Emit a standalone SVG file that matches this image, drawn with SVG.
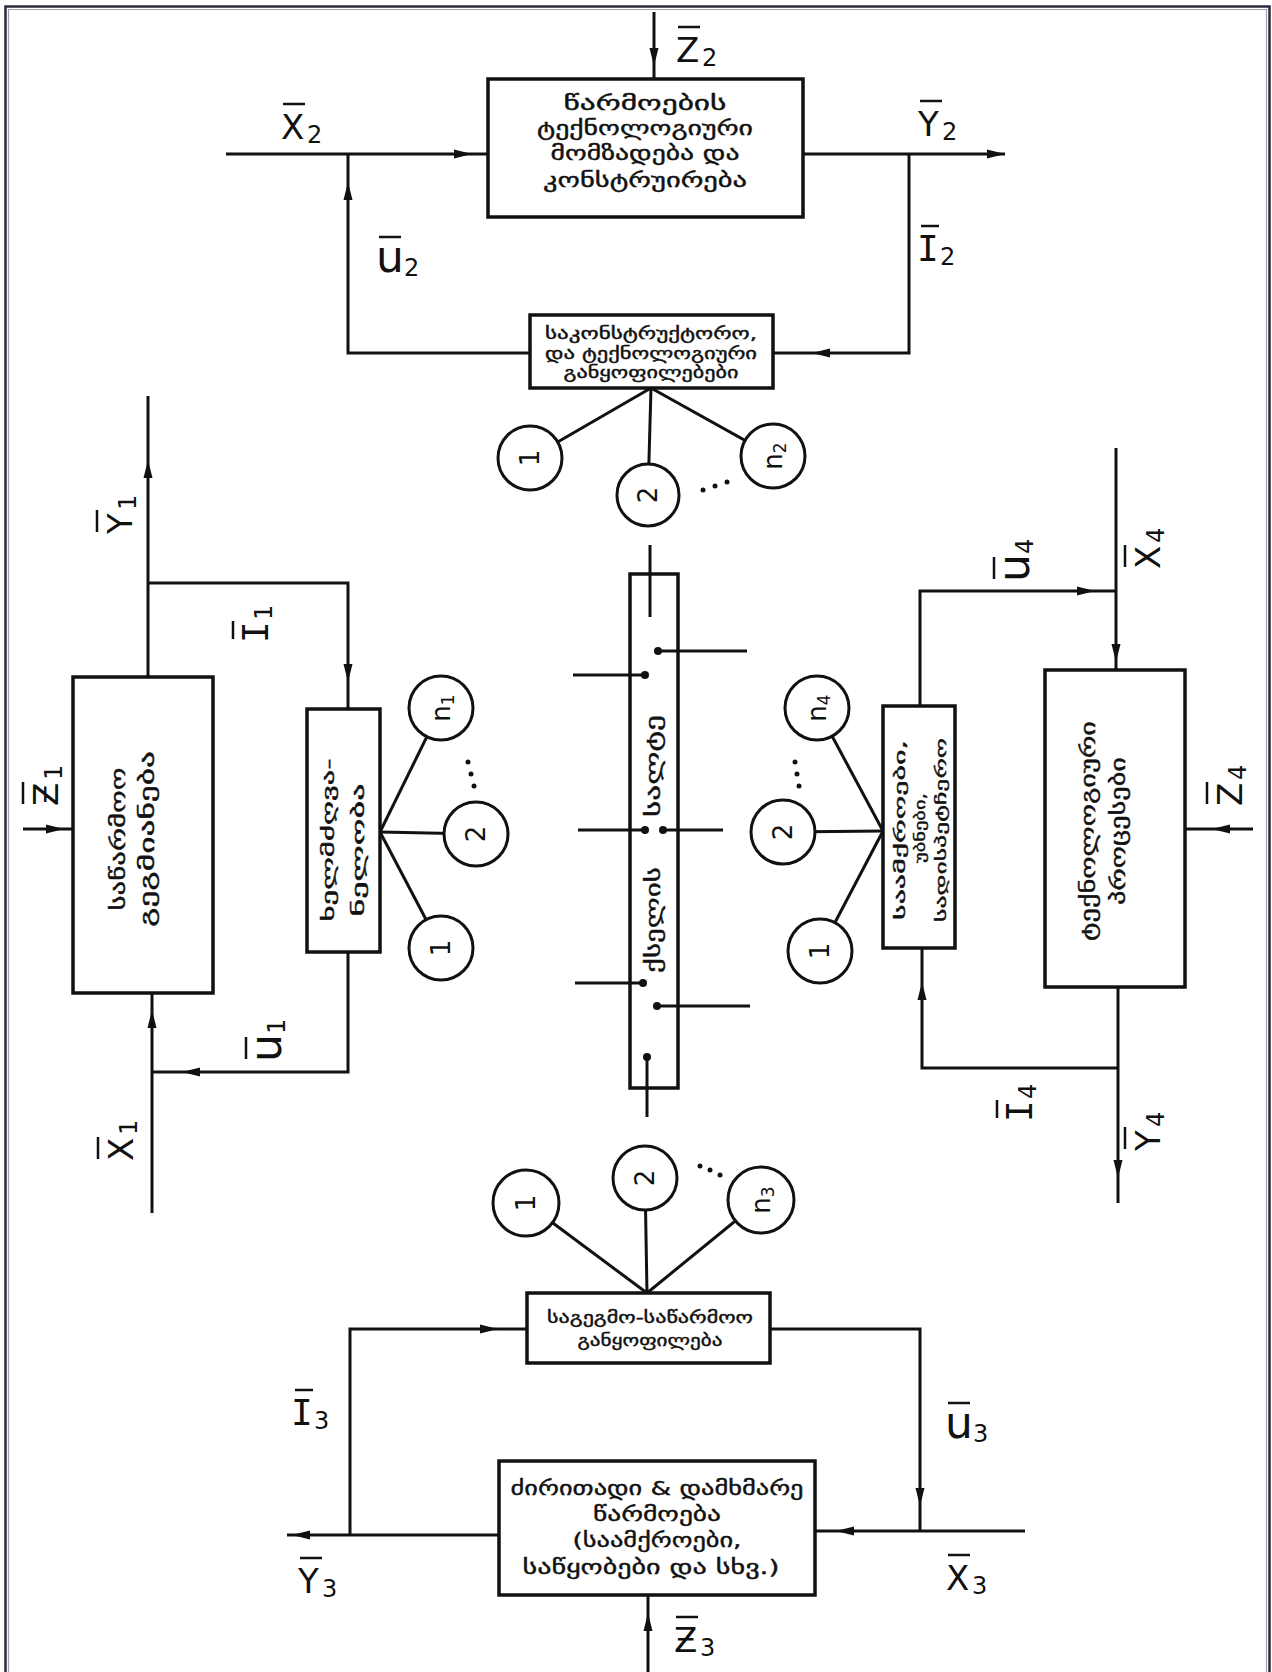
<svg xmlns="http://www.w3.org/2000/svg" xmlns:xlink="http://www.w3.org/1999/xlink" width="1272" height="1672" viewBox="0 0 1272 1672">
<style>
.ln{stroke:#111;stroke-width:3;fill:none}
.bx{fill:#fff;stroke:#111;stroke-width:3.5}
.cr{fill:#fff;stroke:#111;stroke-width:3}
.t{font-family:"DejaVu Sans",sans-serif;fill:#111;text-anchor:middle;dominant-baseline:central;stroke:#111;stroke-width:0.4}
.t20{font-size:20px}
.t16{font-size:16px}
.t15{font-size:15px}
.cl{font-family:"DejaVu Sans",sans-serif;font-size:26px;fill:#111;text-anchor:middle;dominant-baseline:central}
.lb{font-family:"DejaVu Sans",sans-serif;font-size:34px;fill:#111}
.lm{font-family:"DejaVu Sans Mono",monospace;font-size:36px;fill:#111}
.lu{font-family:"DejaVu Sans",sans-serif;font-size:44px;fill:#111}
.sb{font-family:"DejaVu Sans",sans-serif;font-size:24px;fill:#111}
.bar{stroke:#111;stroke-width:2.5}
.dot{fill:#111}
</style>
<defs>
<path id="ah" d="M0,0 L-18,-4.5 L-18,4.5 Z" fill="#111"/>
</defs>
<rect width="1272" height="1672" fill="#fff"/>
<g id="frame">
<path d="M5.5,1672 V6.5 H1269.5 V1672" fill="none" stroke="#2a2a3e" stroke-width="2.5"/>
<path d="M8.5,1672 V9.5 H1266.5 V1672" fill="none" stroke="#a0a0ac" stroke-width="1.2"/>
</g>

<g id="connectors">
<line class="ln" x1="654" y1="12" x2="654" y2="79"/>
<use xlink:href="#ah" transform="translate(654,66) rotate(90)"/>
<line class="ln" x1="226" y1="154" x2="488" y2="154"/>
<use xlink:href="#ah" transform="translate(472,154)"/>
<line class="ln" x1="803" y1="154" x2="1005" y2="154"/>
<use xlink:href="#ah" transform="translate(1005,154)"/>
<polyline class="ln" points="348,154 348,353 530,353"/>
<use xlink:href="#ah" transform="translate(348,182) rotate(-90)"/>
<polyline class="ln" points="909,154 909,353 773,353"/>
<use xlink:href="#ah" transform="translate(812,353) rotate(180)"/>
<line class="ln" x1="651" y1="388" x2="530" y2="458"/>
<line class="ln" x1="651" y1="388" x2="648" y2="495"/>
<line class="ln" x1="651" y1="388" x2="773" y2="456"/>
<line class="ln" x1="148" y1="396" x2="148" y2="677"/>
<use xlink:href="#ah" transform="translate(148,460) rotate(-90)"/>
<polyline class="ln" points="148,583 348,583 348,709"/>
<use xlink:href="#ah" transform="translate(348,682) rotate(90)"/>
<line class="ln" x1="23" y1="829" x2="73" y2="829"/>
<use xlink:href="#ah" transform="translate(64,829)"/>
<polyline class="ln" points="348,952 348,1072 152,1072"/>
<use xlink:href="#ah" transform="translate(182,1072) rotate(180)"/>
<line class="ln" x1="152" y1="1213" x2="152" y2="993"/>
<use xlink:href="#ah" transform="translate(152,1010) rotate(-90)"/>
<line class="ln" x1="380" y1="832" x2="441" y2="708"/>
<line class="ln" x1="380" y1="832" x2="476" y2="834"/>
<line class="ln" x1="380" y1="832" x2="441" y2="948"/>
<line class="ln" x1="1116" y1="448" x2="1116" y2="670"/>
<use xlink:href="#ah" transform="translate(1116,662) rotate(90)"/>
<polyline class="ln" points="920,706 920,591 1116,591"/>
<use xlink:href="#ah" transform="translate(1095,591)"/>
<line class="ln" x1="1253" y1="829" x2="1185" y2="829"/>
<use xlink:href="#ah" transform="translate(1212,829) rotate(180)"/>
<line class="ln" x1="1118" y1="987" x2="1118" y2="1203"/>
<use xlink:href="#ah" transform="translate(1118,1178) rotate(90)"/>
<polyline class="ln" points="1118,1068 922,1068 922,948"/>
<use xlink:href="#ah" transform="translate(922,982) rotate(-90)"/>
<line class="ln" x1="883" y1="831" x2="817" y2="708"/>
<line class="ln" x1="883" y1="831" x2="783" y2="832"/>
<line class="ln" x1="883" y1="831" x2="820" y2="951"/>
<line class="ln" x1="647" y1="1293" x2="526" y2="1203"/>
<line class="ln" x1="647" y1="1293" x2="645" y2="1178"/>
<line class="ln" x1="647" y1="1293" x2="761" y2="1200"/>
<polyline class="ln" points="527,1329 350,1329 350,1535"/>
<use xlink:href="#ah" transform="translate(498,1329)"/>
<polyline class="ln" points="770,1329 920,1329 920,1531"/>
<use xlink:href="#ah" transform="translate(920,1506) rotate(90)"/>
<line class="ln" x1="499" y1="1535" x2="287" y2="1535"/>
<use xlink:href="#ah" transform="translate(292,1535) rotate(180)"/>
<line class="ln" x1="1025" y1="1531" x2="815" y2="1531"/>
<use xlink:href="#ah" transform="translate(836,1531) rotate(180)"/>
<line class="ln" x1="648" y1="1672" x2="648" y2="1595"/>
<use xlink:href="#ah" transform="translate(648,1613) rotate(-90)"/>
</g>

<g id="node-top">
<rect class="bx" x="488" y="79" width="315" height="138"/>
<text class="t t20" x="645" y="103" textLength="163" lengthAdjust="spacingAndGlyphs">წარმოების</text>
<text class="t t20" x="645" y="128" textLength="216" lengthAdjust="spacingAndGlyphs">ტექნოლოგიური</text>
<text class="t t20" x="645" y="153" textLength="189" lengthAdjust="spacingAndGlyphs">მომზადება და</text>
<text class="t t20" x="645" y="180" textLength="204" lengthAdjust="spacingAndGlyphs">კონსტრუირება</text>
</g>
<g id="node-konstr">
<rect class="bx" x="530" y="315" width="243" height="73"/>
<text class="t t16" x="651" y="333" textLength="212" lengthAdjust="spacingAndGlyphs">საკონსტრუქტორო,</text>
<text class="t t16" x="651" y="353" textLength="212" lengthAdjust="spacingAndGlyphs">და ტექნოლოგიური</text>
<text class="t t16" x="651" y="372" textLength="175" lengthAdjust="spacingAndGlyphs">განყოფილებები</text>
</g>
<g id="circles-top">
<circle class="cr" cx="530" cy="458" r="32"/><text class="cl" transform="translate(530,458) rotate(-90)">1</text>
<circle class="cr" cx="648" cy="495" r="31"/><text class="cl" transform="translate(648,495) rotate(-90)">2</text>
<circle class="cr" cx="773" cy="456" r="32"/><text class="cl" transform="translate(773,456) rotate(-90)">n<tspan font-size="17" dy="7">2</tspan></text>
<circle class="dot" cx="703" cy="490" r="2.5"/><circle class="dot" cx="715" cy="486" r="2.5"/><circle class="dot" cx="727" cy="482" r="2.5"/>
</g>

<g id="node-plan">
<rect class="bx" x="73" y="677" width="140" height="316"/>
<text class="t t20" transform="translate(118,839) rotate(-90)" textLength="143" lengthAdjust="spacingAndGlyphs">საწარმოო</text>
<text class="t t20" transform="translate(147,839) rotate(-90)" textLength="176" lengthAdjust="spacingAndGlyphs">გეგმიანება</text>
</g>
<g id="node-mgmt">
<rect class="bx" x="307" y="709" width="73" height="243"/>
<text class="t t16" transform="translate(328,840) rotate(-90)" textLength="163" lengthAdjust="spacingAndGlyphs">ხელმძღვა-</text>
<text class="t t16" transform="translate(358,850) rotate(-90)" textLength="133" lengthAdjust="spacingAndGlyphs">ნელობა</text>
</g>
<g id="circles-left">
<circle class="cr" cx="441" cy="708" r="32"/><text class="cl" transform="translate(441,708) rotate(-90)">n<tspan font-size="17" dy="7">1</tspan></text>
<circle class="cr" cx="476" cy="834" r="32"/><text class="cl" transform="translate(476,834) rotate(-90)">2</text>
<circle class="cr" cx="441" cy="948" r="32"/><text class="cl" transform="translate(441,948) rotate(-90)">1</text>
<circle class="dot" cx="468" cy="762" r="2.5"/><circle class="dot" cx="471" cy="774" r="2.5"/><circle class="dot" cx="474" cy="786" r="2.5"/>
</g>

<g id="node-bus">
<rect class="bx" x="630" y="574" width="48" height="514" stroke-width="3"/>
<line class="ln" x1="650" y1="545" x2="650" y2="617"/>
<line class="ln" x1="658" y1="651" x2="747" y2="651"/><circle class="dot" cx="658" cy="651" r="4"/>
<line class="ln" x1="573" y1="675" x2="645" y2="675"/><circle class="dot" cx="645" cy="675" r="4"/>
<line class="ln" x1="578" y1="830" x2="645" y2="830"/><circle class="dot" cx="645" cy="830" r="4"/>
<line class="ln" x1="663" y1="830" x2="723" y2="830"/><circle class="dot" cx="663" cy="830" r="4"/>
<line class="ln" x1="575" y1="983" x2="643" y2="983"/><circle class="dot" cx="643" cy="983" r="4"/>
<line class="ln" x1="657" y1="1006" x2="750" y2="1006"/><circle class="dot" cx="657" cy="1006" r="4"/>
<line class="ln" x1="647" y1="1057" x2="647" y2="1117"/><circle class="dot" cx="647" cy="1057" r="4"/>
<text class="t t20" transform="translate(653,766) rotate(-90)" textLength="102" lengthAdjust="spacingAndGlyphs">სალტე</text>
<text class="t t20" transform="translate(653,920) rotate(-90)" textLength="106" lengthAdjust="spacingAndGlyphs">ქსელის</text>
</g>

<g id="node-shops">
<rect class="bx" x="883" y="706" width="72" height="242"/>
<text class="t t15" transform="translate(900,830) rotate(-90)" textLength="180" lengthAdjust="spacingAndGlyphs">საამქროები,</text>
<text class="t t15" transform="translate(920,828) rotate(-90)" textLength="70" lengthAdjust="spacingAndGlyphs">უბნები,</text>
<text class="t t15" transform="translate(941,830) rotate(-90)" textLength="184" lengthAdjust="spacingAndGlyphs">სადისპეტჩერო</text>
</g>
<g id="circles-right">
<circle class="cr" cx="817" cy="708" r="32"/><text class="cl" transform="translate(817,708) rotate(-90)">n<tspan font-size="17" dy="7">4</tspan></text>
<circle class="cr" cx="783" cy="832" r="32"/><text class="cl" transform="translate(783,832) rotate(-90)">2</text>
<circle class="cr" cx="820" cy="951" r="32"/><text class="cl" transform="translate(820,951) rotate(-90)">1</text>
<circle class="dot" cx="795" cy="762" r="2.5"/><circle class="dot" cx="797" cy="774" r="2.5"/><circle class="dot" cx="799" cy="786" r="2.5"/>
</g>
<g id="node-process">
<rect class="bx" x="1045" y="670" width="140" height="317"/>
<text class="t t20" transform="translate(1088,831) rotate(-90)" textLength="220" lengthAdjust="spacingAndGlyphs">ტექნოლოგიური</text>
<text class="t t20" transform="translate(1118,831) rotate(-90)" textLength="148" lengthAdjust="spacingAndGlyphs">პროცესები</text>
</g>

<g id="circles-bottom">
<circle class="cr" cx="526" cy="1203" r="33"/><text class="cl" transform="translate(526,1203) rotate(-90)">1</text>
<circle class="cr" cx="645" cy="1178" r="32"/><text class="cl" transform="translate(645,1178) rotate(-90)">2</text>
<circle class="cr" cx="761" cy="1200" r="33"/><text class="cl" transform="translate(761,1200) rotate(-90)">n<tspan font-size="17" dy="7">3</tspan></text>
<circle class="dot" cx="700" cy="1166" r="2.5"/><circle class="dot" cx="710" cy="1170" r="2.5"/><circle class="dot" cx="720" cy="1175" r="2.5"/>
</g>
<g id="node-planning-dept">
<rect class="bx" x="527" y="1293" width="243" height="70"/>
<text class="t t16" x="650" y="1317" textLength="206" lengthAdjust="spacingAndGlyphs">საგეგმო-საწარმოო</text>
<text class="t t16" x="650" y="1340" textLength="145" lengthAdjust="spacingAndGlyphs">განყოფილება</text>
</g>
<g id="node-production">
<rect class="bx" x="499" y="1461" width="316" height="134"/>
<text class="t t20" x="657" y="1488" textLength="293" lengthAdjust="spacingAndGlyphs">ძირითადი &amp; დამხმარე</text>
<text class="t t20" x="657" y="1514" textLength="128" lengthAdjust="spacingAndGlyphs">წარმოება</text>
<text class="t t20" x="657" y="1540" textLength="169" lengthAdjust="spacingAndGlyphs">(საამქროები,</text>
<text class="t t20" x="651" y="1567" textLength="257" lengthAdjust="spacingAndGlyphs">საწყობები და სხვ.)</text>
</g>

<g id="labels">
<g transform="translate(676,22)"><line class="bar" x1="2" y1="5" x2="24" y2="5"/><text class="lb" x="0" y="40">Z</text><text class="sb" x="26" y="44">2</text></g>
<g transform="translate(281,99)"><line class="bar" x1="2" y1="5" x2="24" y2="5"/><text class="lb" x="0" y="40">X</text><text class="sb" x="26" y="44">2</text></g>
<g transform="translate(376,232)"><line class="bar" x1="3" y1="5" x2="25" y2="5"/><text class="lu" x="0" y="40">u</text><text class="sb" x="28" y="44">2</text></g>
<g transform="translate(918,96)"><line class="bar" x1="2" y1="5" x2="24" y2="5"/><text class="lb" x="0" y="40">Y</text><text class="sb" x="24" y="44">2</text></g>
<g transform="translate(918,221)"><line class="bar" x1="3" y1="5" x2="21" y2="5"/><text class="lm" x="-1" y="40">I</text><text class="sb" x="22" y="44">2</text></g>
<g transform="translate(292,1385)"><line class="bar" x1="3" y1="5" x2="21" y2="5"/><text class="lm" x="-1" y="40">I</text><text class="sb" x="22" y="44">3</text></g>
<g transform="translate(298,1553)"><line class="bar" x1="2" y1="5" x2="24" y2="5"/><text class="lb" x="0" y="40">Y</text><text class="sb" x="24" y="44">3</text></g>
<g transform="translate(674,1612)"><line class="bar" x1="2" y1="5" x2="24" y2="5"/><text class="lb" x="0" y="40">Ƶ</text><text class="sb" x="26" y="44">3</text></g>
<g transform="translate(945,1398)"><line class="bar" x1="3" y1="5" x2="25" y2="5"/><text class="lu" x="0" y="40">u</text><text class="sb" x="28" y="44">3</text></g>
<g transform="translate(946,1550)"><line class="bar" x1="2" y1="5" x2="24" y2="5"/><text class="lb" x="0" y="40">X</text><text class="sb" x="26" y="44">3</text></g>
<g transform="translate(114,510) rotate(-90) translate(-24,-22)"><line class="bar" x1="2" y1="5" x2="24" y2="5"/><text class="lb" x="0" y="40">Y</text><text class="sb" x="24" y="44">1</text></g>
<g transform="translate(250,618) rotate(-90) translate(-24,-22)"><line class="bar" x1="3" y1="5" x2="21" y2="5"/><text class="lm" x="-1" y="40">I</text><text class="sb" x="22" y="44">1</text></g>
<g transform="translate(40,782) rotate(-90) translate(-24,-22)"><line class="bar" x1="2" y1="5" x2="24" y2="5"/><text class="lb" x="0" y="40">Ƶ</text><text class="sb" x="26" y="44">1</text></g>
<g transform="translate(263,1038) rotate(-90) translate(-24,-22)"><line class="bar" x1="3" y1="5" x2="25" y2="5"/><text class="lu" x="0" y="40">u</text><text class="sb" x="28" y="44">1</text></g>
<g transform="translate(115,1137) rotate(-90) translate(-24,-22)"><line class="bar" x1="2" y1="5" x2="24" y2="5"/><text class="lb" x="0" y="40">X</text><text class="sb" x="26" y="44">1</text></g>
<g transform="translate(1142,545) rotate(-90) translate(-24,-22)"><line class="bar" x1="2" y1="5" x2="24" y2="5"/><text class="lb" x="0" y="40">X</text><text class="sb" x="26" y="44">4</text></g>
<g transform="translate(1011,558) rotate(-90) translate(-24,-22)"><line class="bar" x1="3" y1="5" x2="25" y2="5"/><text class="lu" x="0" y="40">u</text><text class="sb" x="28" y="44">4</text></g>
<g transform="translate(1224,782) rotate(-90) translate(-24,-22)"><line class="bar" x1="2" y1="5" x2="24" y2="5"/><text class="lb" x="0" y="40">Z</text><text class="sb" x="26" y="44">4</text></g>
<g transform="translate(1014,1097) rotate(-90) translate(-24,-22)"><line class="bar" x1="3" y1="5" x2="21" y2="5"/><text class="lm" x="-1" y="40">I</text><text class="sb" x="22" y="44">4</text></g>
<g transform="translate(1142,1127) rotate(-90) translate(-24,-22)"><line class="bar" x1="2" y1="5" x2="24" y2="5"/><text class="lb" x="0" y="40">Y</text><text class="sb" x="24" y="44">4</text></g>
</g>
</svg>
